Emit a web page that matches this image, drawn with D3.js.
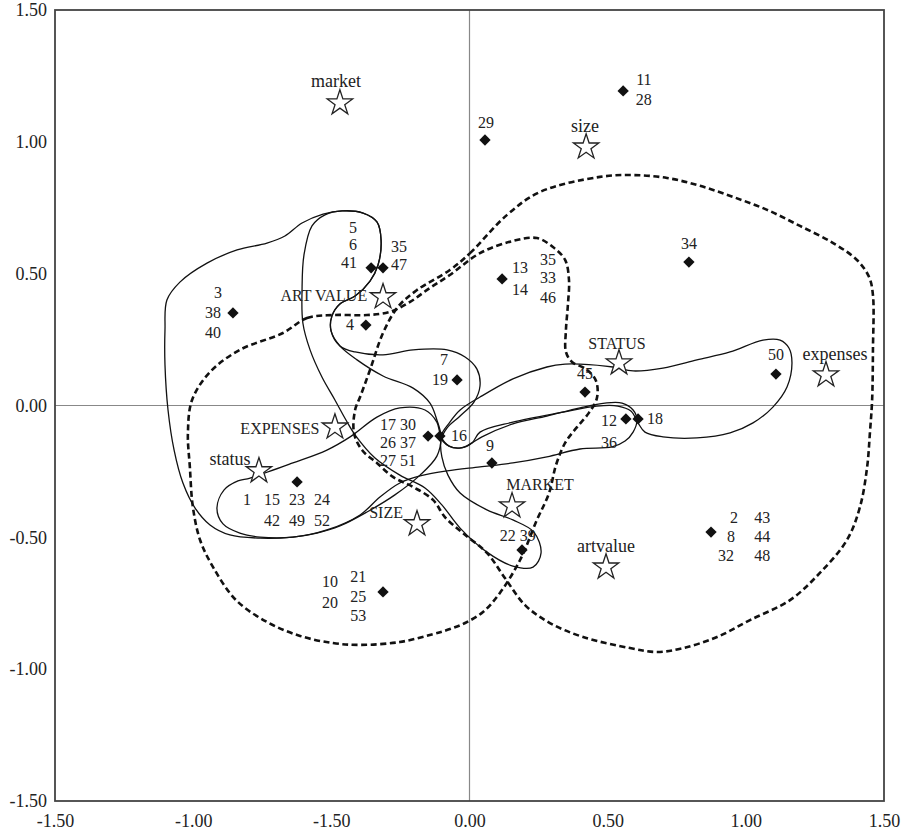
<!DOCTYPE html>
<html lang="en">
<head>
<meta charset="utf-8">
<title>Cluster map</title>
<script src="https://cdn.jsdelivr.net/npm/d3@7"></script>
<style>
  body { margin: 0; background: #fff; }
  text { font-family: "Liberation Serif", "Times New Roman", serif; fill: #222; }
</style>
</head>
<body>
<script>
// Ticks
var tickValues = [-1.5, -1, -0.5, 0, 0.5, 1, 1.5];
var xTickLabels = ["-1.50", "-1.00", "-1.50", "0.00", "0.50", "1.00", "1.50"];
var yTickLabels = ["-1.50", "-1.00", "-0.50", "0.00", "0.50", "1.00", "1.50"];

// Objects (diamonds)
var objectPoints = [
    [-0.856, 0.351], [-0.356, 0.522], [-0.313, 0.522], [-0.375, 0.305],
    [0.056, 1.007], [0.556, 1.193], [0.118, 0.480], [0.794, 0.544],
    [-0.045, 0.097], [-0.150, -0.116], [-0.107, -0.116], [0.081, -0.218],
    [0.418, 0.051], [0.566, -0.051], [0.610, -0.051], [1.109, 0.119],
    [-0.624, -0.290], [0.190, -0.548], [-0.313, -0.707], [0.874, -0.480]
];

var objectLabels = [
    ["3", -0.910, 0.427], ["38", -0.928, 0.351], ["40", -0.928, 0.275],
    ["5", -0.422, 0.673], ["6", -0.422, 0.609], ["41", -0.436, 0.540],
    ["35", -0.255, 0.601], ["47", -0.255, 0.533], ["4", -0.432, 0.305],
    ["29", 0.060, 1.071], ["11", 0.631, 1.235], ["28", 0.631, 1.159],
    ["13", 0.183, 0.522], ["14", 0.183, 0.438],
    ["35", 0.284, 0.552], ["33", 0.284, 0.484], ["46", 0.284, 0.408],
    ["34", 0.794, 0.613], ["7", -0.092, 0.173], ["19", -0.107, 0.097],
    ["17 30", -0.259, -0.074], ["26 37", -0.259, -0.142], ["27 51", -0.259, -0.209],
    ["16", -0.038, -0.116], ["9", 0.074, -0.154], ["45", 0.418, 0.119],
    ["12", 0.505, -0.059], ["18", 0.671, -0.051], ["36", 0.505, -0.142],
    ["50", 1.109, 0.192],
    ["1", -0.805, -0.358], ["15", -0.715, -0.358], ["23", -0.624, -0.358], ["24", -0.534, -0.358],
    ["42", -0.715, -0.438], ["49", -0.624, -0.438], ["52", -0.534, -0.438],
    ["22 39", 0.175, -0.495],
    ["10", -0.505, -0.669], ["20", -0.505, -0.749],
    ["21", -0.403, -0.650], ["25", -0.403, -0.726], ["53", -0.403, -0.797],
    ["2", 0.957, -0.427], ["8", 0.946, -0.499], ["32", 0.928, -0.569],
    ["43", 1.059, -0.427], ["44", 1.059, -0.499], ["48", 1.059, -0.569]
];

// Variables (stars)
var variableNames = ["market", "size", "ART VALUE", "STATUS", "expenses",
    "EXPENSES", "status", "SIZE", "MARKET", "artvalue"];
var variablePoints = [
    [-0.469, 1.147], [0.422, 0.980], [-0.313, 0.412], [0.541, 0.161], [1.290, 0.116],
    [-0.487, -0.082], [-0.762, -0.248], [-0.190, -0.449], [0.154, -0.381], [0.494, -0.613]
];
var variableLabelPos = [
    [-0.483, 1.231], [0.418, 1.060], [-0.527, 0.415], [0.534, 0.233], [1.323, 0.195],
    [-0.686, -0.089], [-0.867, -0.203], [-0.302, -0.408], [0.255, -0.302], [0.494, -0.533]
];

// Dashed contours
var dashedA = [
    [-0.675, 0.275], [-0.588, 0.332], [-0.494, 0.343], [-0.371, 0.343], [-0.288, 0.355],
    [-0.215, 0.393], [-0.143, 0.446], [-0.071, 0.495], [0.038, 0.578], [0.157, 0.624],
    [0.244, 0.635], [0.302, 0.601], [0.346, 0.552], [0.360, 0.476], [0.356, 0.381],
    [0.349, 0.286], [0.349, 0.203], [0.371, 0.165], [0.422, 0.138], [0.458, 0.093],
    [0.461, 0.028], [0.432, -0.028], [0.389, -0.082], [0.346, -0.142], [0.313, -0.226],
    [0.288, -0.332], [0.244, -0.434], [0.183, -0.586], [0.110, -0.711], [0.049, -0.783],
    [-0.016, -0.825], [-0.071, -0.848], [-0.132, -0.867], [-0.252, -0.897], [-0.396, -0.908],
    [-0.494, -0.901], [-0.613, -0.874], [-0.733, -0.821], [-0.845, -0.738], [-0.928, -0.613],
    [-0.975, -0.510], [-1.001, -0.385], [-1.012, -0.233], [-1.019, -0.104], [-1.004, 0.021],
    [-0.939, 0.127], [-0.831, 0.211]
];
var dashedB = [
    [-0.071, 0.514], [0.002, 0.578], [0.136, 0.723], [0.255, 0.810], [0.472, 0.867],
    [0.592, 0.874], [0.715, 0.863], [0.834, 0.833], [0.954, 0.791], [1.077, 0.742],
    [1.196, 0.681], [1.316, 0.616], [1.402, 0.552], [1.446, 0.487], [1.460, 0.419],
    [1.460, 0.211], [1.457, 0.021], [1.449, -0.104], [1.439, -0.233], [1.413, -0.385],
    [1.366, -0.510], [1.268, -0.635], [1.160, -0.738], [1.015, -0.814], [0.896, -0.878],
    [0.773, -0.920], [0.679, -0.935], [0.581, -0.920], [0.411, -0.878], [0.291, -0.825],
    [0.201, -0.757], [0.128, -0.654], [0.063, -0.559], [-0.024, -0.484], [-0.089, -0.423],
    [-0.132, -0.358], [-0.204, -0.309], [-0.277, -0.271], [-0.335, -0.218], [-0.389, -0.169],
    [-0.418, -0.104], [-0.414, -0.017], [-0.396, 0.032], [-0.360, 0.135], [-0.313, 0.275],
    [-0.259, 0.374], [-0.190, 0.438]
];

// Solid contours
var loopLeft = [
    [-1.102, 0.286], [-1.095, 0.400], [-1.048, 0.468], [-0.950, 0.540], [-0.841, 0.590],
    [-0.733, 0.616], [-0.668, 0.643], [-0.606, 0.692], [-0.530, 0.726], [-0.461, 0.738],
    [-0.385, 0.730], [-0.335, 0.696], [-0.320, 0.628], [-0.331, 0.533], [-0.360, 0.472],
    [-0.414, 0.415], [-0.469, 0.385], [-0.498, 0.339], [-0.501, 0.283], [-0.469, 0.226],
    [-0.407, 0.173], [-0.313, 0.112], [-0.204, 0.066], [-0.143, 0.009], [-0.118, -0.055],
    [-0.103, -0.119], [-0.118, -0.192], [-0.179, -0.264], [-0.270, -0.339], [-0.371, -0.404],
    [-0.469, -0.457], [-0.552, -0.484], [-0.639, -0.499], [-0.758, -0.503], [-0.867, -0.491],
    [-0.939, -0.453], [-0.993, -0.389], [-1.037, -0.294], [-1.069, -0.169], [-1.091, -0.017],
    [-1.102, 0.154]
];
var loopArt = [
    [-0.570, 0.681], [-0.599, 0.571], [-0.606, 0.438], [-0.603, 0.313], [-0.577, 0.211],
    [-0.534, 0.108], [-0.487, 0.021], [-0.447, -0.055], [-0.411, -0.116], [-0.342, -0.199],
    [-0.252, -0.264], [-0.161, -0.313], [-0.100, -0.377], [-0.034, -0.465], [0.063, -0.556],
    [0.157, -0.609], [0.230, -0.613], [0.259, -0.559], [0.233, -0.480], [0.157, -0.434],
    [0.063, -0.396], [-0.034, -0.332], [-0.078, -0.264], [-0.100, -0.195], [-0.103, -0.131],
    [-0.081, -0.085], [-0.034, -0.040], [0.016, 0.013], [0.038, 0.074], [0.027, 0.138],
    [-0.016, 0.184], [-0.081, 0.211], [-0.204, 0.211], [-0.313, 0.192], [-0.414, 0.203],
    [-0.469, 0.226], [-0.501, 0.283], [-0.498, 0.339], [-0.469, 0.385], [-0.414, 0.415],
    [-0.360, 0.472], [-0.331, 0.533], [-0.320, 0.628], [-0.335, 0.696], [-0.385, 0.730],
    [-0.461, 0.738], [-0.523, 0.723]
];
var loopStatus = [
    [-0.794, -0.275], [-0.639, -0.218], [-0.516, -0.169], [-0.432, -0.119], [-0.335, -0.044],
    [-0.252, -0.009], [-0.161, -0.017], [-0.118, -0.063], [-0.103, -0.119], [-0.074, -0.154],
    [-0.031, -0.161], [0.009, -0.142], [0.045, -0.119], [0.157, -0.070], [0.280, -0.040],
    [0.400, -0.009], [0.490, 0.009], [0.552, 0.009], [0.592, -0.017], [0.606, -0.055],
    [0.592, -0.101], [0.563, -0.135], [0.516, -0.157], [0.400, -0.165], [0.280, -0.195],
    [0.157, -0.218], [0.038, -0.233], [-0.081, -0.248], [-0.179, -0.267], [-0.252, -0.294],
    [-0.324, -0.347], [-0.396, -0.415], [-0.516, -0.472], [-0.639, -0.499], [-0.758, -0.499],
    [-0.831, -0.484], [-0.892, -0.449], [-0.914, -0.389], [-0.888, -0.320], [-0.838, -0.286]
];
var loopFifty = [
    [-0.103, -0.119], [-0.071, -0.063], [-0.034, -0.017], [0.038, 0.032], [0.157, 0.101],
    [0.280, 0.146], [0.346, 0.157], [0.400, 0.157], [0.519, 0.146], [0.592, 0.131],
    [0.700, 0.142], [0.823, 0.173], [0.943, 0.203], [1.062, 0.248], [1.124, 0.248],
    [1.156, 0.218], [1.167, 0.161], [1.149, 0.070], [1.098, -0.006], [1.026, -0.066],
    [0.943, -0.104], [0.823, -0.123], [0.700, -0.119], [0.635, -0.101], [0.610, -0.066],
    [0.584, -0.021], [0.537, -0.002], [0.461, -0.002], [0.338, -0.025], [0.157, -0.063],
    [0.038, -0.101], [0.009, -0.142], [-0.031, -0.161], [-0.074, -0.154]
];

var solidLoops = [loopLeft, loopArt, loopStatus, loopFifty];
var dashedLoops = [dashedA, dashedB];

// Layout
var w = 902, h = 833;
var x = d3.scaleLinear().domain([-1.5, 1.5]).range([55, 884]);
var y = d3.scaleLinear().domain([-1.5, 1.5]).range([801, 10]);

var svg = d3.select("body").append("svg")
    .attr("width", w)
    .attr("height", h);

svg.append("rect")
    .attr("width", w).attr("height", h)
    .attr("fill", "#fff");

// zero lines
svg.append("line")
    .attr("x1", x(0)).attr("x2", x(0))
    .attr("y1", y(1.5)).attr("y2", y(-1.5))
    .attr("stroke", "#888").attr("stroke-width", 1.2);
svg.append("line")
    .attr("x1", x(-1.5)).attr("x2", x(1.5))
    .attr("y1", y(0)).attr("y2", y(0))
    .attr("stroke", "#888").attr("stroke-width", 1.2);

// frame
svg.append("rect")
    .attr("x", x(-1.5)).attr("y", y(1.5))
    .attr("width", x(1.5) - x(-1.5))
    .attr("height", y(-1.5) - y(1.5))
    .attr("fill", "none")
    .attr("stroke", "#444")
    .attr("stroke-width", 1.8);

// axes
var xAxis = d3.axisBottom(x)
    .tickValues(tickValues)
    .tickSize(0)
    .tickPadding(13)
    .tickFormat(function(d, i) { return xTickLabels[i]; });
var yAxis = d3.axisLeft(y)
    .tickValues(tickValues)
    .tickSize(0)
    .tickPadding(8)
    .tickFormat(function(d, i) { return yTickLabels[i]; });

var gx = svg.append("g").attr("transform", "translate(0," + y(-1.5) + ")").call(xAxis);
var gy = svg.append("g").attr("transform", "translate(" + x(-1.5) + ",0)").call(yAxis);
[gx, gy].forEach(function(g) {
    g.attr("font-family", null);
    g.select(".domain").remove();
    g.selectAll("text")
        .style("font-family", "'Liberation Serif', 'Times New Roman', serif")
        .style("font-size", "18px")
        .attr("fill", "#222");
});

// contours
var line = d3.line()
    .x(function(d) { return x(d[0]); })
    .y(function(d) { return y(d[1]); })
    .curve(d3.curveCatmullRomClosed.alpha(0.5));

svg.selectAll("path.dashed")
    .data(dashedLoops)
    .enter()
    .append("path")
    .attr("class", "dashed")
    .attr("d", line)
    .attr("fill", "none")
    .attr("stroke", "#111")
    .attr("stroke-width", 2.6)
    .attr("stroke-dasharray", "6,3.5");

svg.selectAll("path.solid")
    .data(solidLoops)
    .enter()
    .append("path")
    .attr("class", "solid")
    .attr("d", line)
    .attr("fill", "none")
    .attr("stroke", "#111")
    .attr("stroke-width", 1.3);

// diamonds
var diamond = d3.symbol().type(d3.symbolSquare).size(64);
svg.selectAll("path.obj")
    .data(objectPoints)
    .enter()
    .append("path")
    .attr("class", "obj")
    .attr("d", diamond)
    .attr("transform", function(d) {
        return "translate(" + x(d[0]) + "," + y(d[1]) + ") rotate(45)";
    })
    .attr("fill", "#111");

// stars
var star = d3.symbol().type(d3.symbolStar).size(200);
svg.selectAll("path.var")
    .data(variablePoints)
    .enter()
    .append("path")
    .attr("class", "var")
    .attr("d", star)
    .attr("transform", function(d) {
        return "translate(" + x(d[0]) + "," + y(d[1]) + ")";
    })
    .attr("fill", "#fff")
    .attr("stroke", "#222")
    .attr("stroke-width", 1.3);

// labels
svg.selectAll("text.obj")
    .data(objectLabels)
    .enter()
    .append("text")
    .attr("class", "obj")
    .attr("x", function(d) { return x(d[1]); })
    .attr("y", function(d) { return y(d[2]); })
    .attr("dy", "0.33em")
    .attr("text-anchor", "middle")
    .style("font-size", "16px")
    .text(function(d) { return d[0]; });

svg.selectAll("text.var")
    .data(variableNames)
    .enter()
    .append("text")
    .attr("class", "var")
    .attr("x", function(d, i) { return x(variableLabelPos[i][0]); })
    .attr("y", function(d, i) { return y(variableLabelPos[i][1]); })
    .attr("dy", "0.33em")
    .attr("text-anchor", "middle")
    .style("font-size", function(d) { return d === d.toUpperCase() ? "16px" : "18px"; })
    .text(function(d) { return d; });
</script>
</body>
</html>
